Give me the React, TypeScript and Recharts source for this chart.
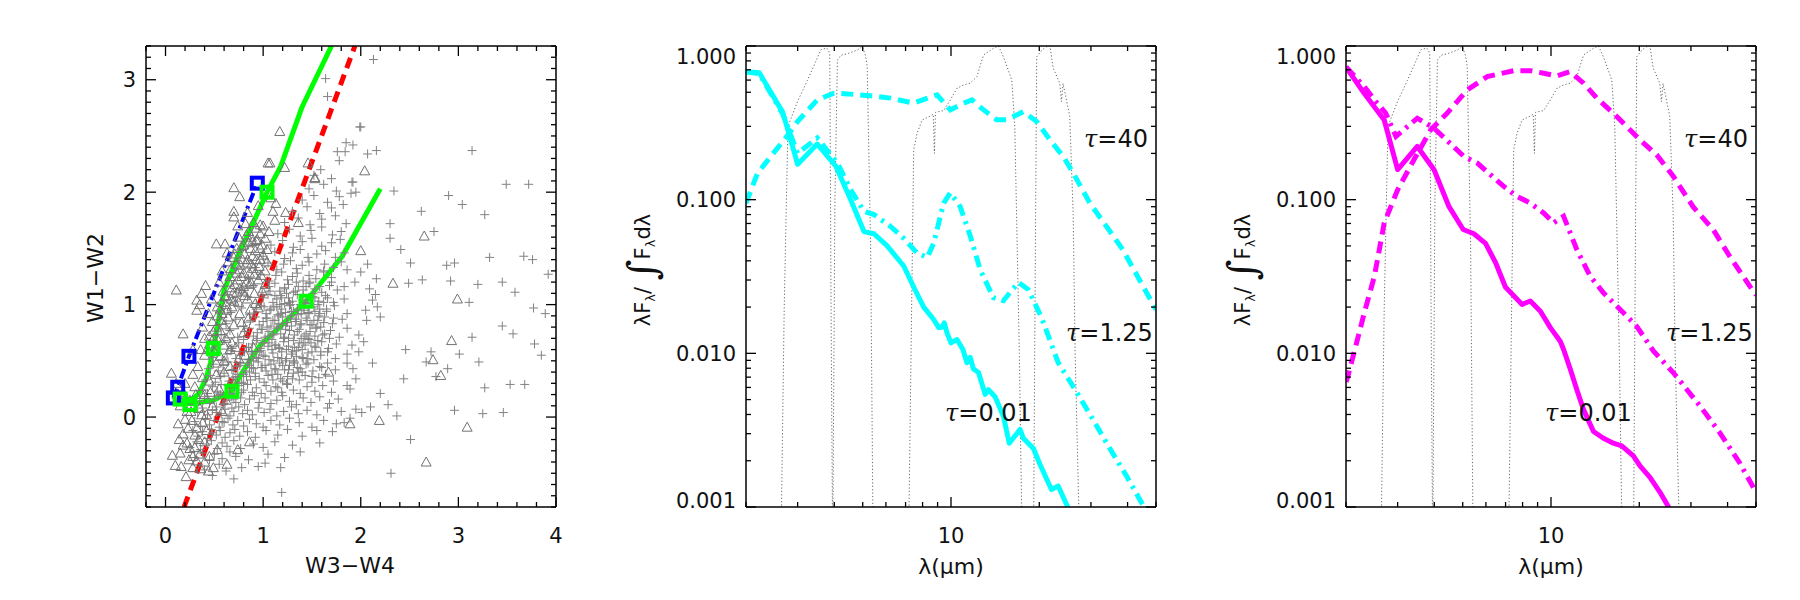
import React from "react";
import { ComposedChart, Line, Scatter, XAxis, YAxis } from "recharts";

type Pt = [number, number];

// ---------- left panel: W1-W2 against W3-W4 ----------
const crossPts: Pt[] = [
  [1.19,-0.67],[2.31,-0.50],[0.40,-0.47],[0.55,-0.42],[0.62,-0.48],[0.78,-0.45],[0.95,-0.44],[1.02,-0.41],[1.18,-0.45],[0.48,-0.52],[0.70,-0.55],
  [0.30,-0.36],[0.38,-0.32],[0.45,-0.38],[0.50,-0.33],[0.58,-0.37],[0.66,-0.31],[0.72,-0.35],[0.85,-0.38],[1.05,-0.33],[1.22,-0.36],[1.38,-0.31],
  [0.25,-0.27],[0.32,-0.22],[0.36,-0.29],[0.42,-0.24],[0.47,-0.21],[0.53,-0.28],[0.58,-0.23],[0.63,-0.26],[0.70,-0.21],[0.77,-0.28],[0.90,-0.24],[1.00,-0.27],[1.12,-0.22],[1.30,-0.25],[1.58,-0.23],[2.51,-0.20],
  [0.28,-0.12],[0.33,-0.17],[0.38,-0.13],[0.43,-0.19],[0.47,-0.11],[0.52,-0.16],[0.56,-0.12],[0.61,-0.18],[0.66,-0.14],[0.71,-0.11],[0.76,-0.17],[0.84,-0.13],[0.92,-0.18],[1.03,-0.12],[1.15,-0.16],[1.25,-0.11],[1.40,-0.17],[1.55,-0.12],[1.71,-0.13],
  [0.30,-0.04],[0.36,-0.08],[0.41,-0.02],[0.45,-0.07],[0.50,-0.03],[0.55,-0.09],[0.60,-0.05],[0.64,-0.01],[0.69,-0.07],[0.74,-0.03],[0.80,-0.08],[0.86,-0.02],[0.93,-0.06],[1.00,-0.09],[1.08,-0.03],[1.17,-0.07],[1.27,-0.01],[1.37,-0.05],[1.50,-0.09],[1.62,-0.03],[1.75,-0.06],[1.83,-0.05],[1.89,-0.01],
  [0.33,0.04],[0.38,0.08],[0.43,0.02],[0.48,0.06],[0.52,0.09],[0.57,0.03],[0.61,0.07],[0.66,0.01],[0.70,0.05],[0.75,0.09],[0.79,0.03],[0.84,0.06],[0.89,0.02],[0.95,0.08],[1.01,0.04],[1.07,0.07],[1.14,0.01],[1.21,0.05],[1.29,0.09],[1.36,0.03],[1.45,0.06],[1.55,0.02],[1.66,0.08],[1.80,0.05],[1.95,0.07],[2.01,0.04],[2.10,0.09],[2.37,0.01],[2.96,0.06],[3.25,0.03],[3.46,0.04],
  [0.35,0.14],[0.40,0.18],[0.45,0.12],[0.50,0.16],[0.54,0.19],[0.59,0.11],[0.63,0.15],[0.68,0.18],[0.72,0.13],[0.77,0.17],[0.81,0.11],[0.86,0.16],[0.91,0.19],[0.96,0.13],[1.02,0.17],[1.08,0.12],[1.14,0.15],[1.20,0.19],[1.27,0.14],[1.34,0.11],[1.41,0.17],[1.49,0.13],[1.58,0.18],[1.68,0.12],[1.77,0.16],[2.28,0.11],
  [0.38,0.24],[0.43,0.21],[0.48,0.27],[0.53,0.23],[0.57,0.29],[0.62,0.22],[0.66,0.26],[0.71,0.21],[0.75,0.28],[0.80,0.24],[0.84,0.29],[0.89,0.22],[0.93,0.26],[0.98,0.21],[1.03,0.28],[1.08,0.23],[1.13,0.27],[1.19,0.22],[1.25,0.29],[1.31,0.24],[1.38,0.21],[1.45,0.27],[1.53,0.23],[1.61,0.28],[1.70,0.22],[1.86,0.28],[1.89,0.25],[2.20,0.21],[3.27,0.26],[3.53,0.29],[3.68,0.29],
  [0.41,0.33],[0.46,0.37],[0.51,0.31],[0.56,0.36],[0.60,0.39],[0.65,0.32],[0.69,0.35],[0.74,0.38],[0.78,0.31],[0.83,0.36],[0.87,0.33],[0.92,0.39],[0.96,0.34],[1.01,0.31],[1.05,0.37],[1.10,0.33],[1.15,0.38],[1.20,0.32],[1.25,0.36],[1.31,0.39],[1.37,0.33],[1.43,0.37],[1.50,0.31],[1.57,0.35],[1.64,0.38],[1.72,0.32],[1.95,0.34],[2.44,0.34],[2.77,0.36],
  [0.44,0.43],[0.49,0.47],[0.54,0.41],[0.59,0.46],[0.64,0.49],[0.68,0.42],[0.73,0.45],[0.77,0.48],[0.82,0.41],[0.86,0.46],[0.90,0.43],[0.95,0.49],[0.99,0.44],[1.03,0.41],[1.08,0.47],[1.12,0.43],[1.17,0.48],[1.22,0.42],[1.27,0.46],[1.32,0.49],[1.38,0.43],[1.44,0.47],[1.51,0.41],[1.58,0.45],[1.66,0.48],[1.74,0.42],[1.86,0.48],[1.92,0.43],[2.12,0.48],[2.67,0.49],[2.89,0.43],[3.21,0.49],
  [0.48,0.53],[0.53,0.57],[0.58,0.51],[0.63,0.56],[0.67,0.59],[0.72,0.52],[0.76,0.55],[0.81,0.58],[0.85,0.51],[0.89,0.56],[0.93,0.53],[0.98,0.59],[1.02,0.54],[1.06,0.51],[1.10,0.57],[1.15,0.53],[1.19,0.58],[1.24,0.52],[1.29,0.56],[1.34,0.59],[1.40,0.53],[1.46,0.57],[1.52,0.51],[1.59,0.55],[1.66,0.58],[1.74,0.52],[1.86,0.56],[1.98,0.58],[2.46,0.60],[2.72,0.58],[3.01,0.56],[3.85,0.55],
  [0.52,0.63],[0.60,0.68],[0.68,0.61],[0.75,0.66],[0.80,0.69],[0.85,0.62],[0.89,0.65],[0.93,0.68],[0.97,0.61],[1.01,0.66],[1.05,0.63],[1.09,0.69],[1.13,0.64],[1.17,0.61],[1.21,0.67],[1.26,0.63],[1.31,0.68],[1.36,0.62],[1.41,0.66],[1.47,0.69],[1.53,0.63],[1.60,0.67],[1.67,0.61],[1.75,0.65],[1.91,0.64],[2.03,0.67],[3.78,0.65],
  [0.57,0.73],[0.66,0.77],[0.74,0.71],[0.81,0.76],[0.86,0.79],[0.90,0.72],[0.94,0.75],[0.98,0.78],[1.02,0.71],[1.06,0.76],[1.10,0.73],[1.14,0.79],[1.18,0.74],[1.22,0.71],[1.27,0.77],[1.32,0.73],[1.37,0.78],[1.42,0.72],[1.48,0.76],[1.54,0.79],[1.61,0.73],[1.69,0.77],[1.78,0.71],[1.86,0.79],[1.98,0.73],[3.14,0.71],[3.56,0.74],
  [0.62,0.83],[0.72,0.87],[0.80,0.81],[0.87,0.86],[0.92,0.89],[0.96,0.82],[1.00,0.85],[1.04,0.88],[1.08,0.81],[1.12,0.86],[1.16,0.83],[1.20,0.89],[1.24,0.84],[1.29,0.81],[1.34,0.87],[1.39,0.83],[1.44,0.88],[1.50,0.82],[1.56,0.86],[1.63,0.89],[1.71,0.83],[1.81,0.87],[2.06,0.86],[2.20,0.89],[3.45,0.81],
  [0.67,0.93],[0.78,0.97],[0.86,0.91],[0.93,0.96],[0.98,0.99],[1.03,0.92],[1.07,0.95],[1.11,0.98],[1.15,0.91],[1.19,0.96],[1.23,0.93],[1.27,0.99],[1.31,0.94],[1.36,0.91],[1.41,0.97],[1.46,0.93],[1.52,0.98],[1.58,0.92],[1.65,0.96],[1.73,0.99],[1.86,0.92],[2.05,0.95],[2.17,0.98],[3.77,0.97],[3.89,0.92],
  [0.72,1.03],[0.84,1.07],[0.93,1.01],[1.00,1.06],[1.05,1.09],[1.10,1.02],[1.14,1.05],[1.18,1.08],[1.22,1.01],[1.26,1.06],[1.30,1.03],[1.35,1.09],[1.40,1.04],[1.45,1.01],[1.51,1.07],[1.57,1.03],[1.64,1.08],[1.72,1.02],[1.83,1.05],[2.12,1.04],[2.15,1.09],[3.11,1.02],
  [0.78,1.13],[0.90,1.17],[0.99,1.11],[1.06,1.16],[1.12,1.19],[1.17,1.12],[1.22,1.15],[1.26,1.18],[1.31,1.11],[1.36,1.16],[1.41,1.13],[1.47,1.19],[1.53,1.14],[1.60,1.11],[1.68,1.17],[1.76,1.13],[1.83,1.16],[1.94,1.20],[2.09,1.14],[3.20,1.18],[3.58,1.11],
  [0.85,1.23],[0.97,1.27],[1.06,1.21],[1.13,1.26],[1.19,1.29],[1.25,1.22],[1.30,1.25],[1.35,1.28],[1.41,1.21],[1.47,1.26],[1.54,1.23],[1.62,1.29],[1.70,1.24],[1.86,1.31],[2.00,1.29],[2.16,1.23],[2.49,1.19],[2.63,1.22],[2.92,1.21],[3.45,1.20],[3.92,1.27],
  [0.92,1.33],[1.05,1.37],[1.14,1.31],[1.21,1.36],[1.28,1.39],[1.34,1.32],[1.40,1.35],[1.47,1.38],[1.55,1.31],[1.63,1.36],[1.72,1.33],[1.80,1.38],[2.07,1.36],[2.51,1.37],[2.88,1.35],[2.96,1.37],[3.76,1.40],
  [1.00,1.43],[1.12,1.47],[1.22,1.41],[1.30,1.46],[1.38,1.49],[1.46,1.42],[1.55,1.45],[1.64,1.48],[1.74,1.42],[1.83,1.46],[2.41,1.49],[3.32,1.42],[3.67,1.43],
  [1.08,1.53],[1.20,1.57],[1.31,1.51],[1.40,1.56],[1.50,1.59],[1.60,1.52],[1.70,1.55],[1.79,1.58],[2.30,1.59],
  [1.15,1.63],[1.27,1.67],[1.38,1.61],[1.49,1.66],[1.60,1.69],[1.71,1.62],[1.80,1.65],[2.75,1.65],[2.30,1.72],
  [1.22,1.73],[1.36,1.77],[1.48,1.71],[1.60,1.76],[1.74,1.79],[1.85,1.72],[2.62,1.83],[3.27,1.80],
  [1.30,1.83],[1.45,1.87],[1.58,1.81],[1.70,1.86],[1.82,1.89],[3.04,1.89],
  [1.40,1.93],[1.52,1.97],[1.66,1.91],[1.78,1.96],[1.90,1.99],[2.90,1.97],
  [1.47,2.03],[1.62,2.07],[1.75,2.01],[1.92,2.09],[1.95,2.00],[2.34,2.01],[3.49,2.07],[3.72,2.07],
  [1.52,2.15],[1.70,2.12],[1.78,2.28],[1.91,2.09],[2.16,2.37],[1.59,2.20],
  [1.76,2.36],[1.84,2.36],[1.92,2.42],[2.07,2.34],[3.14,2.37],[1.85,2.44],
  [1.99,2.58],[1.64,3.01],[1.66,2.85],[2.13,3.18],[2.00,2.58],
  [1.00,0.55],[1.05,0.72],[1.09,0.38],[1.12,0.64],[1.16,0.90],[1.20,0.46],[1.23,0.78],[1.27,1.02],[1.30,0.58],[1.33,0.85],[1.36,0.40],[1.39,0.70],[1.42,0.95],[1.45,0.52],[1.48,0.82],[1.51,1.10],[1.54,0.62],[1.57,0.90],[1.60,0.44],[1.63,0.74],
  [1.03,0.88],[1.07,1.12],[1.11,0.50],[1.15,0.80],[1.19,1.06],[1.24,0.60],[1.28,0.88],[1.32,0.48],[1.35,0.76],[1.38,1.00],[1.43,0.64],[1.47,0.92],[1.50,0.36],[1.53,0.72],[1.56,1.00],[1.59,0.58],[1.62,0.84],
  [0.98,0.44],[0.94,0.70],[0.90,0.50],[0.86,0.40],[0.83,0.62],[0.80,0.30],[0.76,0.46],[0.72,0.36],[0.70,0.16],[0.64,0.28],[0.60,0.12],[0.56,0.20],[0.52,0.04],
  [1.18,0.34],[1.26,0.42],[1.34,0.54],[1.40,0.60],[1.46,0.70],[1.52,0.86],[1.58,0.96],[1.66,1.06],[1.70,1.20],[1.44,1.16],[1.34,1.20],[1.24,1.10],[1.14,0.98],[1.04,0.80],[0.96,0.58],[0.88,0.44],[0.78,0.22],[0.68,0.08],[0.58,-0.04],[0.48,-0.14],
  [1.21,0.70],[1.29,0.94],[1.37,0.66],[1.45,0.86],[1.11,0.74],[1.17,1.00],[1.31,0.50],[1.41,1.08],[1.25,0.84],[1.09,0.60],[0.99,0.78],[1.49,0.66],[1.55,0.80],[1.35,0.96],[1.19,0.52],
  [1.02,0.46],[1.06,0.66],[1.10,0.86],[1.13,0.42],[1.16,0.62],[1.20,0.82],[1.23,0.50],[1.26,0.70],[1.29,0.90],[1.32,0.62],[1.35,0.44],[1.38,0.82],[1.41,0.52],[1.44,0.74],[1.47,0.98],[1.50,0.58],[1.53,0.94],[1.56,0.68],[1.59,0.80],[1.62,1.02],
  [1.08,0.96],[1.12,1.08],[1.18,0.92],[1.22,1.14],[1.28,1.00],[1.33,1.12],[1.39,0.92],[1.43,1.02],[1.48,1.20],[1.53,1.06],[0.92,0.36],[0.95,0.52],[0.99,0.66],[1.01,0.98],[0.88,0.58],[0.84,0.48],[0.80,0.38],[0.74,0.30],[0.70,0.42],[0.66,0.20],
  [1.65,0.94],[1.68,0.70],[1.72,0.88],[1.58,1.16],[1.62,1.30],[1.30,0.34],[1.40,0.40],[1.46,0.48],[1.24,0.30],[1.15,0.26],
];

const trianglePts: Pt[] = [
  [0.07,-0.34],[0.10,-0.43],[0.16,-0.44],[0.21,-0.53],[0.15,-0.32],[0.22,-0.23],[0.30,-0.16],[0.32,-0.39],[0.49,-0.45],[0.53,-0.29],[0.63,-0.42],[0.74,-0.29],[0.86,-0.22],[0.13,-0.06],[0.27,-0.03],[0.32,-0.10],[0.37,0.02],[0.25,-0.28],[0.35,-0.33],[0.40,-0.22],[0.18,-0.15],[0.28,-0.45],[0.42,-0.12],[0.20,-0.02],[0.45,-0.35],[0.38,-0.05],[0.24,-0.38],
  [0.12,0.20],[0.20,0.30],[0.26,0.05],[0.34,-0.20],[0.18,-0.25],[0.28,-0.35],[0.40,-0.40],[0.44,-0.48],[0.36,-0.46],[0.30,-0.27],[0.23,-0.10],[0.14,-0.20],[0.31,0.20],[0.38,0.35],[0.46,0.22],[0.52,0.38],
  [0.06,0.39],[0.11,0.30],[0.18,0.22],[0.25,0.15],[0.30,0.27],[0.35,0.08],[0.40,0.20],[0.22,0.05],[0.45,0.32],[0.48,0.10],[0.55,0.25],[0.15,0.10],[0.60,0.40],[0.33,0.45],[0.52,0.48],[0.28,0.38],[0.42,0.02],[0.62,0.15],[0.70,0.30],[0.58,0.05],[0.66,0.45],
  [0.18,0.74],[0.56,0.77],[0.66,0.60],[0.56,0.54],[0.32,0.95],[0.35,1.00],[0.53,0.98],[0.64,0.89],[0.76,0.92],[0.92,1.01],[0.95,0.97],[0.40,0.55],[0.45,0.65],[0.62,0.70],[0.72,0.62],[0.80,0.75],[0.48,0.85],[0.70,0.82],[0.85,0.88],[0.38,0.80],[0.58,0.92],[0.90,0.62],[0.75,0.52],[0.50,0.58],[0.68,0.98],[0.82,0.55],[0.28,0.60],[0.60,0.64],
  [0.41,1.17],[0.11,1.13],[0.37,1.10],[0.32,1.04],[0.73,1.11],[0.81,1.08],[0.61,1.07],[0.70,1.03],[0.78,1.25],[0.83,1.20],[0.88,1.19],[0.80,1.16],[0.76,1.31],[0.90,1.32],[1.02,1.30],[0.83,1.37],[0.97,1.40],[1.04,1.38],[0.89,1.43],[1.04,1.49],[0.52,1.54],[0.61,1.54],[0.80,1.53],[0.99,1.53],[0.93,1.57],[1.02,1.59],[0.97,1.63],[0.97,1.71],[1.10,1.83],[1.12,1.75],[0.70,1.83],[0.70,1.78],[0.70,2.04],[0.76,1.96],[1.05,2.26],[1.53,2.12],[1.17,2.54],[1.07,2.26],[1.22,2.22],[1.46,2.26],[1.13,1.90],[1.23,1.82],[1.36,1.73],
  [0.66,1.25],[0.70,1.42],[0.75,1.60],[0.85,1.65],[0.92,1.48],[0.68,1.15],[0.86,1.28],[0.95,1.22],[0.58,1.30],[0.64,1.38],[0.55,1.20],[0.47,1.05],[0.99,1.12],[0.87,1.50],[0.79,1.40],[0.73,1.50],[1.00,1.70],[0.90,1.73],[0.84,1.82],[0.95,1.88],[1.06,1.65],[1.08,1.95],
  [0.45,0.72],[0.52,0.80],[0.57,0.86],[0.63,0.95],[0.67,1.05],[0.71,1.18],[0.74,1.22],[0.77,1.35],[0.81,1.45],[0.85,1.55],[0.88,1.60],[0.93,1.68],[0.62,1.00],[0.69,1.10],[0.73,1.28],[0.79,1.12],[0.84,1.05],[0.60,0.82],[0.66,0.74],[0.54,0.68],[0.43,0.60],[0.49,0.76],[0.56,0.96],[0.59,1.12],[0.65,1.20],[0.72,1.36],[0.78,1.52],[0.83,1.62],[0.88,1.36],[0.94,1.58],[1.00,1.44],[0.91,1.27],[0.96,1.34],[0.86,1.18],[0.75,1.02],
  [0.62,1.08],[0.67,1.32],[0.71,1.45],[0.76,1.14],[0.80,1.28],[0.84,1.40],[0.89,1.56],[0.93,1.40],[0.97,1.50],[0.74,1.70],[0.82,1.72],[0.63,1.46],[0.57,1.02],[0.53,0.90],[0.49,0.70],[0.44,0.92],[0.40,0.70],[0.36,0.60],[0.60,0.50],[0.68,0.66],[0.87,0.96],[0.91,1.10],[0.98,1.26],[1.02,1.18],[0.78,0.84],
  [2.04,2.19],[2.65,1.61],[2.00,1.48],[2.33,1.19],[2.99,1.05],[2.93,0.68],[2.74,0.51],[2.82,0.37],[1.89,-0.06],[2.19,-0.03],[3.09,-0.09],[2.67,-0.40],[1.67,0.40],[1.53,2.13],
];

const redCut: Pt[] = [[0.19,-0.8],[1.94,3.3]];
const blueTrack: Pt[] = [[0.08,0.17],[0.125,0.265],[0.24,0.54],[0.94,2.08]];
const greenTrackA: Pt[] = [[0.10,0.14],[0.15,0.15],[0.28,0.16],[0.34,0.21],[0.41,0.33],[0.46,0.48],[0.49,0.61],[0.53,0.80],[0.60,1.13],[0.74,1.43],[0.91,1.75],[1.04,2.00],[1.18,2.23],[1.40,2.76],[1.70,3.30]];
const greenTrackB: Pt[] = [[0.10,0.12],[0.29,0.12],[0.49,0.15],[0.68,0.23],[0.76,0.36],[0.87,0.51],[0.97,0.64],[1.17,0.80],[1.44,1.03],[1.81,1.43],[2.20,2.03]];
const greenNodes: Pt[] = [[0.15,0.16],[0.25,0.11],[0.49,0.61],[0.68,0.23],[1.04,2.00],[1.44,1.03]];

const colorXTicks = [-0.2,0,0.2,0.4,0.6,0.8,1,1.2,1.4,1.6,1.8,2,2.2,2.4,2.6,2.8,3,3.2,3.4,3.6,3.8,4];
const colorYTicks = [-0.8,-0.7,-0.6,-0.5,-0.4,-0.3,-0.2,-0.1,0,0.1,0.2,0.3,0.4,0.5,0.6,0.7,0.8,0.9,1,1.1,1.2,1.3,1.4,1.5,1.6,1.7,1.8,1.9,2,2.1,2.2,2.3,2.4,2.5,2.6,2.7,2.8,2.9,3,3.1,3.2,3.3];

// ---------- SED panels ----------
const sedXTicks = [2,3,4,5,6,7,8,9,10,20,30,40,50];
const sedYTicks = [0.001,0.002,0.003,0.004,0.005,0.006,0.007,0.008,0.009,0.01,0.02,0.03,0.04,0.05,0.06,0.07,0.08,0.09,0.1,0.2,0.3,0.4,0.5,0.6,0.7,0.8,0.9,1];

// filter transmission curves (dotted)
const bandW1: Pt[] = [[2.63,0.0005],[2.70,0.02],[2.78,0.30],[3.0,0.437],[3.24,0.598],[3.44,0.774],[3.60,0.945],[3.77,0.97],[3.86,0.9],[3.90,0.02],[3.95,0.0005]];
const bandW2: Pt[] = [[3.95,0.0005],[4.02,0.1],[4.10,0.81],[4.21,0.87],[4.43,0.89],[4.79,0.94],[4.98,0.99],[5.11,0.87],[5.18,0.73],[5.32,0.05],[5.43,0.0005]];
const bandW3: Pt[] = [[7.16,0.0005],[7.46,0.21],[7.66,0.27],[7.97,0.33],[8.5,0.35],[8.7,0.36],[8.78,0.2],[8.85,0.37],[9.44,0.38],[9.95,0.446],[10.48,0.531],[11.04,0.558],[11.63,0.573],[12.25,0.632],[12.91,0.874],[13.96,0.966],[14.51,1.0],[15.09,0.852],[16.12,0.60],[16.5,0.3],[17.1,0.01],[17.5,0.0005]];
const bandW4: Pt[] = [[19.1,0.0005],[19.4,0.05],[19.6,0.85],[20.4,0.94],[21.2,0.99],[21.75,1.0],[22.3,0.72],[23.5,0.57],[23.8,0.435],[24.1,0.57],[25.4,0.35],[26.1,0.08],[26.5,0.01],[27.5,0.0005]];

const cyanTau001: Pt[] = [[2.0,0.68],[2.22,0.67],[2.67,0.37],[3.0,0.17],[3.5,0.23],[4.05,0.165],[4.55,0.10],[5.05,0.062],[5.46,0.060],[6.06,0.050],[6.9,0.037],[7.46,0.027],[8.07,0.020],[8.73,0.0166],[9.08,0.0147],[9.3,0.0148],[9.49,0.0158],[9.69,0.0136],[10.0,0.0117],[10.48,0.0123],[10.98,0.0106],[11.33,0.0087],[11.63,0.0094],[11.93,0.0079],[12.41,0.0075],[13.08,0.0054],[13.42,0.0058],[14.15,0.0052],[15.09,0.0039],[15.8,0.0026],[17.2,0.0032],[17.65,0.0028],[19.1,0.0024],[20.1,0.0019],[22.0,0.0013],[23.2,0.00137],[25.0,0.001],[27,0.0007]];
const cyanTau125: Pt[] = [[2.0,0.68],[2.22,0.66],[2.67,0.36],[3.0,0.20],[3.5,0.252],[4.1,0.173],[4.55,0.116],[5.05,0.084],[5.46,0.080],[6.22,0.067],[6.9,0.056],[7.66,0.045],[8.29,0.042],[8.73,0.052],[9.44,0.095],[9.95,0.111],[10.75,0.090],[11.63,0.058],[12.58,0.035],[13.95,0.023],[15.09,0.022],[16.97,0.029],[18.35,0.026],[20.38,0.017],[23.2,0.0087],[26.8,0.0056],[30.5,0.0037],[34.8,0.0024],[39.6,0.0016],[44.6,0.00107],[47,0.0009]];
const cyanTau40: Pt[] = [[2.0,0.095],[2.19,0.149],[2.43,0.191],[2.73,0.252],[3.0,0.323],[3.5,0.446],[3.99,0.493],[4.43,0.488],[5.32,0.474],[6.22,0.458],[7.46,0.425],[8.96,0.481],[9.95,0.384],[11.04,0.425],[11.79,0.446],[12.91,0.384],[14.33,0.331],[15.5,0.331],[17.65,0.374],[19.59,0.323],[21.75,0.245],[24.14,0.191],[26.11,0.149],[29.74,0.095],[33.88,0.067],[38.6,0.047],[43.95,0.030],[50,0.0193]];

const magTau001: Pt[] = [[2.0,0.73],[2.31,0.49],[2.70,0.33],[3.0,0.157],[3.5,0.222],[3.99,0.157],[4.49,0.090],[5.02,0.064],[5.46,0.060],[5.98,0.052],[6.47,0.039],[6.99,0.027],[7.97,0.0208],[8.5,0.0219],[9.2,0.0188],[9.95,0.0147],[10.75,0.012],[11.04,0.0106],[11.63,0.0079],[12.25,0.0058],[12.91,0.0043],[13.96,0.0031],[15.09,0.0028],[16.32,0.0026],[17.43,0.0025],[19.09,0.00215],[20.11,0.00185],[21.75,0.00156],[23.51,0.00125],[25.09,0.00101],[27,0.0007]];
const magTau125: Pt[] = [[2.0,0.73],[2.31,0.544],[2.50,0.446],[2.73,0.366],[2.96,0.258],[3.5,0.339],[3.99,0.292],[5.05,0.191],[5.61,0.173],[6.9,0.122],[7.66,0.105],[8.5,0.095],[9.44,0.082],[10.2,0.0706],[11.04,0.078],[12.25,0.0473],[13.6,0.0318],[15.09,0.0248],[17.2,0.0193],[19.6,0.015],[22.3,0.0104],[26.1,0.0075],[32.2,0.00455],[37.6,0.00305],[43.9,0.00195],[50,0.00125]];
const magTau40: Pt[] = [[2.0,0.0065],[2.03,0.0071],[2.13,0.0101],[2.31,0.0184],[2.50,0.0318],[2.70,0.0706],[3.0,0.116],[3.41,0.182],[3.89,0.285],[4.43,0.366],[5.18,0.518],[6.06,0.632],[7.46,0.691],[8.5,0.691],[9.44,0.665],[10.48,0.639],[11.63,0.681],[12.91,0.573],[14.33,0.458],[16.76,0.348],[20.11,0.245],[22.92,0.196],[26.11,0.142],[30.5,0.090],[35.7,0.064],[40.6,0.043],[48.9,0.0254],[50,0.024]];

const toXY = (pts: Pt[]) => pts.map(([x, y]) => ({ x, y }));

const FONT = "'DejaVu Sans', sans-serif";
const frame = { stroke: "#000", strokeWidth: 1.5 };
// top axis (1px tall) and right axis (1px wide) sit inside these margins
const margin = { top: 45, right: 43, bottom: 0, left: 0 };

type Side = "bottom" | "top" | "left" | "right";
function makeTick(side: Side, isMajor: (v: number) => boolean, fmt?: (v: number) => string | null, nudge?: (v: number) => number) {
  return (props: any) => {
    const x = Number(props.x);
    const y = Number(props.y);
    const v = props.payload.value as number;
    const len = isMajor(v) ? 10 : 5;
    const label = fmt ? fmt(v) : null;
    let d = "";
    if (side === "bottom") d = `M${x},${y}V${y - len}`;
    else if (side === "top") d = `M${x},${y}V${y + len}`;
    else if (side === "left") d = `M${x},${y}H${x + len}`;
    else d = `M${x},${y}H${x - len}`;
    return (
      <g>
        <path d={d} stroke="#000" strokeWidth={1.3} fill="none" />
        {label && side === "bottom" && (
          <text x={x} y={y + 36} textAnchor="middle" fill="#111" fontFamily={FONT} fontSize={21}>{label}</text>
        )}
        {label && side === "left" && (
          <text x={x - 10} y={y + (nudge ? nudge(v) : 0)} dy="0.36em" textAnchor="end" fill="#111" fontFamily={FONT} fontSize={21}>{label}</text>
        )}
      </g>
    );
  };
}

const isInt = (v: number) => Math.abs(v - Math.round(v)) < 1e-6;
const isDecade = (v: number) => isInt(Math.log10(v));

const colorBottom = makeTick("bottom", isInt, (v) => (isInt(v) && v >= 0 ? String(Math.round(v)) : null));
const colorTop = makeTick("top", isInt);
const colorLeft = makeTick("left", isInt, (v) => (isInt(v) ? String(Math.round(v)) : null));
const colorRight = makeTick("right", isInt);

const sedBottom = makeTick("bottom", (v) => v === 10, (v) => (v === 10 ? "10" : null));
const sedTop = makeTick("top", (v) => v === 10);
const sedLeft = makeTick("left", isDecade, (v) => (isDecade(v) ? v.toFixed(3) : null), (v) => (v === 1 ? 10 : v === 0.001 ? -7 : 0));
const sedRight = makeTick("right", isDecade);

const PlusShape = (p: any) => (
  <path d={`M${p.cx - 4.5},${p.cy}h9M${p.cx},${p.cy - 4.5}v9`} stroke="#828282" strokeWidth={1} fill="none" />
);
const TriShape = (p: any) => (
  <path d={`M${p.cx - 5},${p.cy + 4}L${p.cx + 5},${p.cy + 4}L${p.cx},${p.cy - 5}Z`} stroke="#727272" strokeWidth={1} fill="none" />
);
const squareShape = (color: string) => (p: any) => (
  <rect x={p.cx - 5.5} y={p.cy - 5.5} width={11} height={11} stroke={color} strokeWidth={4} fill="none" />
);

const axisCommon = { type: "number" as const, allowDataOverflow: true, interval: 0 as const, tickSize: 0, tickMargin: 0, tickLine: false, axisLine: frame };

function ColorPanel() {
  return (
    <ComposedChart width={600} height={600} margin={margin}>
      <XAxis {...axisCommon} dataKey="x" domain={[-0.2, 4]} ticks={colorXTicks} height={93} tick={colorBottom} />
      <XAxis {...axisCommon} xAxisId="top" orientation="top" dataKey="x" domain={[-0.2, 4]} ticks={colorXTicks} height={1} tick={colorTop} />
      <YAxis {...axisCommon} dataKey="y" domain={[-0.8, 3.3]} ticks={colorYTicks} width={146} tick={colorLeft} />
      <YAxis {...axisCommon} yAxisId="right" orientation="right" dataKey="y" domain={[-0.8, 3.3]} ticks={colorYTicks} width={1} tick={colorRight} />
      {/* invisible copy bound to the mirrored axes */}
      <Line xAxisId="top" yAxisId="right" data={toXY(redCut)} dataKey="y" stroke="none" dot={false} activeDot={false} isAnimationActive={false} />
      <Scatter data={toXY(crossPts)} shape={PlusShape} isAnimationActive={false} />
      <Scatter data={toXY(trianglePts)} shape={TriShape} isAnimationActive={false} />
      <Line data={toXY(redCut)} dataKey="y" stroke="#ff0000" strokeWidth={5} strokeDasharray="11 7" dot={false} activeDot={false} isAnimationActive={false} />
      <Line data={toXY(blueTrack)} dataKey="y" stroke="#0000ff" strokeWidth={4} strokeDasharray="10 4 3 4" dot={false} activeDot={false} isAnimationActive={false} />
      <Line data={toXY(greenTrackA)} dataKey="y" stroke="#00ff00" strokeWidth={5} strokeLinejoin="round" dot={false} activeDot={false} isAnimationActive={false} />
      <Line data={toXY(greenTrackB)} dataKey="y" stroke="#00ff00" strokeWidth={5} strokeLinejoin="round" dot={false} activeDot={false} isAnimationActive={false} />
      <Scatter data={toXY(blueTrack)} shape={squareShape("#0000ff")} isAnimationActive={false} />
      <Scatter data={toXY(greenNodes)} shape={squareShape("#00ff00")} isAnimationActive={false} />
    </ComposedChart>
  );
}

function SedPanel({ color, thin, mid, thick }: { color: string; thin: Pt[]; mid: Pt[]; thick: Pt[] }) {
  const band = (pts: Pt[], i: number) => (
    <Line key={i} data={toXY(pts)} dataKey="y" stroke="#555" strokeWidth={0.9} strokeDasharray="1.2 2.2" dot={false} activeDot={false} isAnimationActive={false} />
  );
  return (
    <ComposedChart width={600} height={600} margin={margin}>
      <XAxis {...axisCommon} dataKey="x" scale="log" domain={[2, 50]} ticks={sedXTicks} height={93} tick={sedBottom} />
      <XAxis {...axisCommon} xAxisId="top" orientation="top" dataKey="x" scale="log" domain={[2, 50]} ticks={sedXTicks} height={1} tick={sedTop} />
      <YAxis {...axisCommon} dataKey="y" scale="log" domain={[0.001, 1]} ticks={sedYTicks} width={146} tick={sedLeft} />
      <YAxis {...axisCommon} yAxisId="right" orientation="right" dataKey="y" scale="log" domain={[0.001, 1]} ticks={sedYTicks} width={1} tick={sedRight} />
      <Line xAxisId="top" yAxisId="right" data={toXY(thick)} dataKey="y" stroke="none" dot={false} activeDot={false} isAnimationActive={false} />
      {[bandW1, bandW2, bandW3, bandW4].map(band)}
      <Line data={toXY(thick)} dataKey="y" stroke={color} strokeWidth={5} strokeDasharray="12 7" dot={false} activeDot={false} isAnimationActive={false} />
      <Line data={toXY(mid)} dataKey="y" stroke={color} strokeWidth={5} strokeDasharray="12 6 3 6" dot={false} activeDot={false} isAnimationActive={false} />
      <Line data={toXY(thin)} dataKey="y" stroke={color} strokeWidth={5} strokeLinejoin="round" dot={false} activeDot={false} isAnimationActive={false} />
    </ComposedChart>
  );
}

function TauLabel({ x, y, value }: { x: number; y: number; value: string }) {
  return (
    <text x={x} y={y} fontSize={24} fill="#111" fontFamily={FONT}>
      <tspan fontFamily="'DejaVu Serif', serif" fontStyle="italic">τ</tspan>
      <tspan fontFamily="'DejaVu Serif', serif">=</tspan>
      <tspan>{value}</tspan>
    </text>
  );
}

function SedTitles({ dx }: { dx: number }) {
  return (
    <g>
      <text x={951 + dx} y={574} textAnchor="middle" fontFamily={FONT} fontSize={22} fill="#111">λ(μm)</text>
      <text transform={`translate(${650 + dx},270) rotate(-90)`} textAnchor="middle" fontFamily={FONT} fontSize={21} fill="#111">
        <tspan>λF</tspan>
        <tspan fontSize={13} dy={5}>λ</tspan>
        <tspan dy={-5}>/ </tspan>
        <tspan fontFamily="'DejaVu Serif', serif" fontSize={40} dy={6}>∫</tspan>
        <tspan dy={-6}>F</tspan>
        <tspan fontSize={13} dy={5}>λ</tspan>
        <tspan dy={-5}>dλ</tspan>
      </text>
      <TauLabel x={1084 + dx} y={147} value="40" />
      <TauLabel x={1066 + dx} y={341} value="1.25" />
      <TauLabel x={945 + dx} y={421} value="0.01" />
    </g>
  );
}

export default function App() {
  return (
    <div style={{ position: "absolute", left: 0, top: 0, width: 1800, height: 600, background: "#fff", overflow: "hidden" }}>
      <div style={{ position: "absolute", left: 0, top: 0 }}>
        <ColorPanel />
      </div>
      <div style={{ position: "absolute", left: 600, top: 0 }}>
        <SedPanel color="#00ffff" thin={cyanTau001} mid={cyanTau125} thick={cyanTau40} />
      </div>
      <div style={{ position: "absolute", left: 1200, top: 0 }}>
        <SedPanel color="#ff00ff" thin={magTau001} mid={magTau125} thick={magTau40} />
      </div>
      <svg width={1800} height={600} style={{ position: "absolute", left: 0, top: 0, pointerEvents: "none" }}>
        <text x={350} y={573} textAnchor="middle" fontFamily={FONT} fontSize={22} fill="#111">W3−W4</text>
        <text transform="translate(103,278) rotate(-90)" textAnchor="middle" fontFamily={FONT} fontSize={22} fill="#111">W1−W2</text>
        <SedTitles dx={0} />
        <SedTitles dx={600} />
      </svg>
    </div>
  );
}
